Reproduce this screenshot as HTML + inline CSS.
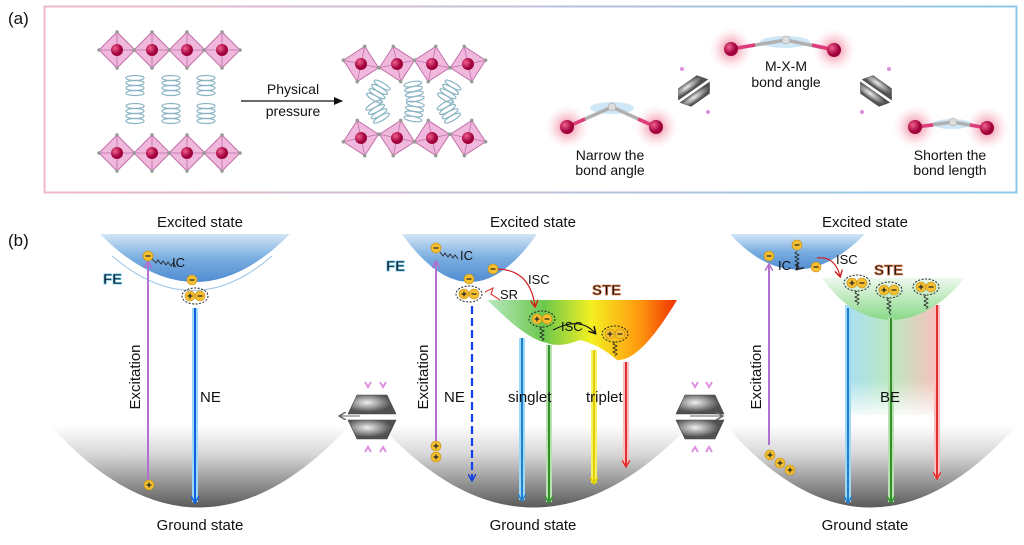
<!DOCTYPE html>
<html><head><meta charset="utf-8"><style>
html,body{margin:0;padding:0;background:#fff}
svg{display:block}
text{font-family:"Liberation Sans",Arial,sans-serif;fill:#111}
</style></head><body>
<svg width="1024" height="545" viewBox="0 0 1024 545" xmlns="http://www.w3.org/2000/svg">
<defs>
<linearGradient id="bord" x1="0" x2="1"><stop offset="0" stop-color="#f0b8c8"/><stop offset="1" stop-color="#8cc8e8"/></linearGradient>
<linearGradient id="exc" x1="0" y1="0" x2="0" y2="1"><stop offset="0" stop-color="#d3e5f6"/><stop offset="0.5" stop-color="#7aaee0"/><stop offset="1" stop-color="#4f8cd2"/></linearGradient>
<linearGradient id="gnd" x1="0" y1="0" x2="0" y2="1"><stop offset="0" stop-color="#fff"/><stop offset="0.35" stop-color="#d8d8d8"/><stop offset="1" stop-color="#5a5a5a"/></linearGradient>
<linearGradient id="ste" x1="0" x2="1"><stop offset="0" stop-color="#b8e8c0"/><stop offset="0.3" stop-color="#6cc84c"/><stop offset="0.55" stop-color="#f4f020"/><stop offset="0.8" stop-color="#ff9a10"/><stop offset="1" stop-color="#f03000"/></linearGradient>
<linearGradient id="ste2" x1="0" y1="0" x2="0" y2="1"><stop offset="0" stop-color="#eef9ee"/><stop offset="1" stop-color="#88d888"/></linearGradient>
<linearGradient id="be" x1="0" x2="1"><stop offset="0" stop-color="#7fd0f0"/><stop offset="0.5" stop-color="#9fe0a8"/><stop offset="1" stop-color="#f0a8a0"/></linearGradient>
<linearGradient id="befade" x1="0" y1="0" x2="0" y2="1"><stop offset="0" stop-color="#fff" stop-opacity="0"/><stop offset="1" stop-color="#fff" stop-opacity="1"/></linearGradient>
<radialGradient id="glow"><stop offset="0.3" stop-color="#f6b0c0"/><stop offset="1" stop-color="#fde8ee" stop-opacity="0"/></radialGradient>
<radialGradient id="ball" cx="0.35" cy="0.35"><stop offset="0" stop-color="#f06090"/><stop offset="1" stop-color="#a0003a"/></radialGradient>
<radialGradient id="dia" cx="0.4" cy="0.4"><stop offset="0" stop-color="#f0f0f0"/><stop offset="1" stop-color="#505050"/></radialGradient>
<g id="oct"><polygon points="0,-18 18,0 0,18 -18,0" fill="#f0b8dc" stroke="#c070a8" stroke-width="1"/><path d="M0,-18V18M-18,0H18" stroke="#c070a8" stroke-width="0.8"/><circle r="6" fill="url(#ball)"/><circle cx="0" cy="-18" r="1.8" fill="#999"/><circle cx="18" cy="0" r="1.8" fill="#999"/><circle cx="0" cy="18" r="1.8" fill="#999"/><circle cx="-18" cy="0" r="1.8" fill="#999"/></g>
<g id="spr" fill="none" stroke="#8ab4c4" stroke-width="1.2"><ellipse cx="0" cy="-8" rx="9" ry="2.5"/><ellipse cx="0" cy="-3" rx="9" ry="2.5"/><ellipse cx="0" cy="2" rx="9" ry="2.5"/><ellipse cx="0" cy="7" rx="9" ry="2.5"/></g>
<g id="neg"><circle r="5" fill="#f5c030" stroke="#c08a10" stroke-width="0.6"/><path d="M-2.5,0H2.5" stroke="#222" stroke-width="1.2"/></g>
<g id="pos"><circle r="5" fill="#f5c030" stroke="#c08a10" stroke-width="0.6"/><path d="M-2.5,0H2.5M0,-2.5V2.5" stroke="#222" stroke-width="1.2"/></g>
<g id="pair"><ellipse rx="13" ry="8" fill="none" stroke="#222" stroke-dasharray="2,1.5"/><use href="#pos" x="-5"/><use href="#neg" x="5"/></g>
<g id="dmd"><path d="M-24,-3 L-15,-22 L15,-22 L24,-3 Z" fill="url(#dia)" stroke="#444" stroke-width="0.6"/><path d="M-24,3 L-15,22 L15,22 L24,3 Z" fill="url(#dia)" stroke="#444" stroke-width="0.6"/></g>
<marker id="ab" markerWidth="8" markerHeight="8" refX="6" refY="4" orient="auto" markerUnits="userSpaceOnUse"><path d="M0,0 L7,4 L0,8" fill="none" stroke="context-stroke" stroke-width="1.5"/></marker>
<marker id="ak" markerWidth="10" markerHeight="10" refX="8" refY="5" orient="auto" markerUnits="userSpaceOnUse"><path d="M0,1 L9,5 L0,9 Z" fill="#111"/></marker>
</defs>

<!-- (a) -->
<text x="8" y="24" font-size="17">(a)</text>
<rect x="44.5" y="6.5" width="972" height="186" fill="none" stroke="url(#bord)" stroke-width="2"/>
<use href="#oct" x="117" y="50"/><use href="#oct" x="152" y="50"/><use href="#oct" x="187" y="50"/><use href="#oct" x="222" y="50"/>
<use href="#oct" x="117" y="153"/><use href="#oct" x="152" y="153"/><use href="#oct" x="187" y="153"/><use href="#oct" x="222" y="153"/>
<use href="#spr" x="135" y="86"/><use href="#spr" x="171" y="86"/><use href="#spr" x="206" y="86"/>
<use href="#spr" x="135" y="114"/><use href="#spr" x="171" y="114"/><use href="#spr" x="206" y="114"/>
<line x1="241" y1="101" x2="342" y2="101" stroke="#111" stroke-width="1.3" marker-end="url(#ak)"/>
<text x="293" y="94" font-size="14" text-anchor="middle">Physical</text>
<text x="293" y="116" font-size="14" text-anchor="middle">pressure</text>
<g transform="translate(361,64) rotate(12)"><use href="#oct"/></g><g transform="translate(397,64) rotate(-12)"><use href="#oct"/></g><g transform="translate(432,64) rotate(12)"><use href="#oct"/></g><g transform="translate(468,64) rotate(-12)"><use href="#oct"/></g>
<g transform="translate(361,138) rotate(-12)"><use href="#oct"/></g><g transform="translate(397,138) rotate(12)"><use href="#oct"/></g><g transform="translate(432,138) rotate(-12)"><use href="#oct"/></g><g transform="translate(468,138) rotate(12)"><use href="#oct"/></g>
<g transform="translate(378,92) rotate(30)"><use href="#spr"/></g><g transform="translate(414,92) rotate(-10)"><use href="#spr"/></g><g transform="translate(449,92) rotate(30)"><use href="#spr"/></g>
<g transform="translate(378,112) rotate(-30)"><use href="#spr"/></g><g transform="translate(414,112) rotate(10)"><use href="#spr"/></g><g transform="translate(449,112) rotate(-30)"><use href="#spr"/></g>

<!-- molecules -->
<g>
<circle cx="567" cy="127" r="22" fill="url(#glow)"/><circle cx="656" cy="127" r="22" fill="url(#glow)"/>
<ellipse cx="612" cy="108" rx="22" ry="6" fill="#cfe6f6"/>
<path d="M567,127 L612,107 L656,127" fill="none" stroke="#b0b0b0" stroke-width="3.5"/>
<path d="M567,127 L585,119 M656,127 L638,119" stroke="#e03c7c" stroke-width="3.5"/>
<circle cx="567" cy="127" r="7" fill="url(#ball)"/><circle cx="656" cy="127" r="7" fill="url(#ball)"/><circle cx="612" cy="107" r="4" fill="#ddd" stroke="#999" stroke-width="0.5"/>
<text x="610" y="160" font-size="14" text-anchor="middle">Narrow the</text><text x="610" y="175" font-size="14" text-anchor="middle">bond angle</text>
</g>
<g>
<circle cx="731" cy="49" r="22" fill="url(#glow)"/><circle cx="834" cy="50" r="22" fill="url(#glow)"/>
<ellipse cx="785" cy="42" rx="25" ry="6" fill="#cfe6f6"/>
<path d="M731,49 L786,40 L834,50" fill="none" stroke="#b0b0b0" stroke-width="3.5"/>
<path d="M731,49 L755,45 M834,50 L812,45" stroke="#e03c7c" stroke-width="3.5"/>
<circle cx="731" cy="49" r="7" fill="url(#ball)"/><circle cx="834" cy="50" r="7" fill="url(#ball)"/><circle cx="786" cy="40" r="4" fill="#ddd" stroke="#999" stroke-width="0.5"/>
<text x="786" y="71" font-size="14" text-anchor="middle">M-X-M</text><text x="786" y="87" font-size="14" text-anchor="middle">bond angle</text>
</g>
<g>
<circle cx="915" cy="127" r="22" fill="url(#glow)"/><circle cx="987" cy="128" r="22" fill="url(#glow)"/>
<ellipse cx="952" cy="124" rx="20" ry="5" fill="#cfe6f6"/>
<path d="M915,127 L953,122 L987,128" fill="none" stroke="#b0b0b0" stroke-width="3.5"/>
<path d="M915,127 L933,125 M987,128 L970,125" stroke="#e03c7c" stroke-width="3.5"/>
<circle cx="915" cy="127" r="7" fill="url(#ball)"/><circle cx="987" cy="128" r="7" fill="url(#ball)"/><circle cx="953" cy="122" r="4" fill="#ddd" stroke="#999" stroke-width="0.5"/>
<text x="950" y="160" font-size="14" text-anchor="middle">Shorten the</text><text x="950" y="175" font-size="14" text-anchor="middle">bond length</text>
</g>
<g transform="translate(694,91) rotate(-35) scale(0.75,0.5)"><use href="#dmd"/></g>
<g transform="translate(876,91) rotate(35) scale(0.75,0.5)"><use href="#dmd"/></g>
<circle cx="682" cy="69" r="2" fill="#e090e0"/><circle cx="708" cy="112" r="2" fill="#e090e0"/><circle cx="889" cy="69" r="2" fill="#e090e0"/><circle cx="862" cy="112" r="2" fill="#e090e0"/>

<!-- (b) -->
<text x="8" y="246" font-size="17">(b)</text>

<path d="M50,425 Q198,590 350,425 Z" fill="url(#gnd)"/>
<path d="M380,425 Q532,590 690,425 Z" fill="url(#gnd)"/>
<path d="M725,425 Q870,590 1017,425 Z" fill="url(#gnd)"/>

<!-- panel 1 -->
<text x="200" y="227" font-size="15" text-anchor="middle">Excited state</text>
<path d="M100,234 Q195,330 290,234 Z" fill="url(#exc)"/>
<path d="M112,253 Q193,322 272,253" fill="none" stroke="#fff" stroke-width="3"/>
<path d="M112,256 Q193,325 272,256" fill="none" stroke="#9cc4e4" stroke-width="1"/>
<text x="103" y="284" font-size="15" font-weight="bold" fill="#cdeefc" stroke="#5cc0ea" stroke-width="0.8">FE</text>
<line x1="148" y1="480" x2="148" y2="262" stroke="#b070d0" stroke-width="2" marker-end="url(#ab)"/>
<text transform="translate(140,377) rotate(-90)" font-size="15" text-anchor="middle">Excitation</text>
<use href="#neg" x="148" y="256"/>
<path d="M152,259 l4,4 l2,-3 l3,4 l2,-3 l3,4 l2,-3 l3,4 l2,-3 l3,4" fill="none" stroke="#222" stroke-width="0.8"/>
<text x="172" y="267" font-size="13">IC</text>
<use href="#neg" x="192" y="280"/>
<use href="#pair" x="195" y="296"/>
<line x1="195" y1="308" x2="195" y2="502" stroke="#9ed8f4" stroke-width="6"/>
<line x1="195" y1="308" x2="195" y2="502" stroke="#1060e0" stroke-width="2" marker-end="url(#ab)"/>
<text x="200" y="402" font-size="15">NE</text>
<use href="#pos" x="149" y="485"/>
<text x="200" y="530" font-size="15" text-anchor="middle">Ground state</text>

<!-- diamonds between -->
<g transform="translate(372,417)"><use href="#dmd"/></g>
<line x1="360" y1="416" x2="340" y2="416" stroke="#666" stroke-width="1" marker-end="url(#ab)"/>
<path d="M365,382 l3,5 l3,-5 M380,382 l3,5 l3,-5" stroke="#e090e0" stroke-width="2" fill="none"/>
<path d="M365,452 l3,-5 l3,5 M380,452 l3,-5 l3,5" stroke="#e090e0" stroke-width="2" fill="none"/>
<g transform="translate(700,417)"><use href="#dmd"/></g>
<line x1="690" y1="416" x2="722" y2="416" stroke="#666" stroke-width="1" marker-end="url(#ab)"/>
<path d="M692,382 l3,5 l3,-5 M706,382 l3,5 l3,-5" stroke="#e090e0" stroke-width="2" fill="none"/>
<path d="M692,452 l3,-5 l3,5 M706,452 l3,-5 l3,5" stroke="#e090e0" stroke-width="2" fill="none"/>

<!-- panel 2 -->
<text x="533" y="227" font-size="15" text-anchor="middle">Excited state</text>
<path d="M487,300 L677,300 Q640,362 617,360 Q600,345 580,340 Q560,348 547,343 Q530,340 503,315 Z" fill="url(#ste)"/>
<path d="M402,234 Q470,330 537,234 Z" fill="url(#exc)"/>
<path d="M410,256 Q470,320 528,270" fill="none" stroke="#fff" stroke-width="3"/>
<text x="386" y="271" font-size="15" font-weight="bold" fill="#cdeefc" stroke="#5cc0ea" stroke-width="0.8">FE</text>
<text x="592" y="295" font-size="15" font-weight="bold" fill="#fbd0b0" stroke="#e88a5a" stroke-width="0.8">STE</text>
<line x1="436" y1="450" x2="436" y2="262" stroke="#b070d0" stroke-width="2" marker-end="url(#ab)"/>
<text transform="translate(428,377) rotate(-90)" font-size="15" text-anchor="middle">Excitation</text>
<use href="#neg" x="436" y="248"/>
<path d="M440,252 l3,4 l2,-3 l3,4 l2,-3 l3,4 l2,-3 l3,4" fill="none" stroke="#222" stroke-width="0.8"/>
<text x="460" y="260" font-size="13">IC</text>
<use href="#neg" x="469" y="279"/>
<use href="#neg" x="493" y="269"/>
<path d="M498,269 Q530,270 535,306" fill="none" stroke="#d02020" stroke-width="1.2" marker-end="url(#ab)"/>
<text x="528" y="284" font-size="13">ISC</text>
<use href="#pair" x="469" y="294"/>
<path d="M485,292 l8,-4 l-2,6 l9,6" fill="none" stroke="#e04040" stroke-width="1.2"/>
<text x="500" y="299" font-size="13">SR</text>
<line x1="472" y1="306" x2="472" y2="480" stroke="#1040e0" stroke-width="2.2" stroke-dasharray="8,4" marker-end="url(#ab)"/>
<text x="444" y="402" font-size="15">NE</text>
<use href="#pair" x="542" y="319"/>
<path d="M542,327 l-2,2 l4,2 l-4,2 l4,2 l-4,2 l4,2 l-2,2" fill="none" stroke="#222" stroke-width="0.8"/>
<path d="M553,330 Q580,316 595,333" fill="none" stroke="#111" stroke-width="1.2" marker-end="url(#ab)"/>
<text x="561" y="331" font-size="13">ISC</text>
<use href="#pair" x="615" y="334"/>
<path d="M615,342 l-2,2 l4,2 l-4,2 l4,2 l-4,2 l4,2 l-2,2" fill="none" stroke="#222" stroke-width="0.8"/>
<line x1="522" y1="338" x2="522" y2="500" stroke="#a0d8f8" stroke-width="6"/><line x1="522" y1="338" x2="522" y2="500" stroke="#2080d0" stroke-width="2" marker-end="url(#ab)"/>
<line x1="549" y1="345" x2="549" y2="502" stroke="#b8e0b0" stroke-width="6"/><line x1="549" y1="345" x2="549" y2="502" stroke="#30902a" stroke-width="2" marker-end="url(#ab)"/>
<line x1="594" y1="350" x2="594" y2="483" stroke="#f8f060" stroke-width="6"/><line x1="594" y1="350" x2="594" y2="483" stroke="#e0d000" stroke-width="2" marker-end="url(#ab)"/>
<line x1="626" y1="362" x2="626" y2="466" stroke="#f8c0c0" stroke-width="6"/><line x1="626" y1="362" x2="626" y2="466" stroke="#e03030" stroke-width="2" marker-end="url(#ab)"/>
<text x="508" y="402" font-size="15">singlet</text>
<text x="586" y="402" font-size="15">triplet</text>
<use href="#pos" x="436" y="446"/><use href="#pos" x="436" y="457"/>
<text x="533" y="530" font-size="15" text-anchor="middle">Ground state</text>

<!-- panel 3 -->
<text x="865" y="227" font-size="15" text-anchor="middle">Excited state</text>
<rect x="845" y="305" width="90" height="110" fill="url(#be)" opacity="0.7"/>
<rect x="845" y="380" width="90" height="40" fill="url(#befade)"/>
<path d="M822,278 L965,278 Q930,320 890,320 Q850,318 822,278 Z" fill="url(#ste2)"/>
<path d="M730,234 Q795,305 865,234 Z" fill="url(#exc)"/>
<text x="874" y="275" font-size="15" font-weight="bold" fill="#fbd0b0" stroke="#e88a5a" stroke-width="0.8">STE</text>
<line x1="769" y1="445" x2="769" y2="265" stroke="#b070d0" stroke-width="2" marker-end="url(#ab)"/>
<text transform="translate(761,377) rotate(-90)" font-size="15" text-anchor="middle">Excitation</text>
<use href="#neg" x="769" y="256"/>
<use href="#neg" x="797" y="245"/>
<path d="M797,251 l-2,2 l4,2 l-4,2 l4,2 l-4,2 l4,2 l-4,2 l4,2 l-2,2" fill="none" stroke="#222" stroke-width="0.8" marker-end="url(#ab)"/>
<text x="778" y="270" font-size="13">IC</text>
<use href="#neg" x="816" y="267"/>
<path d="M817,258 Q835,256 840,276" fill="none" stroke="#d02020" stroke-width="1.2" marker-end="url(#ab)"/>
<text x="836" y="264" font-size="13">ISC</text>
<use href="#pair" x="857" y="283"/><use href="#pair" x="889" y="290"/><use href="#pair" x="926" y="287"/>
<path d="M857,291 l-2,2 l4,2 l-4,2 l4,2 l-4,2 l4,2 l-2,2 M926,295 l-2,2 l4,2 l-4,2 l4,2 l-4,2 l4,2 l-2,2 M889,298 l-2,2 l4,2 l-4,2 l4,2 l-4,2 l4,2 l-2,2 l2,3" fill="none" stroke="#222" stroke-width="0.8"/>
<line x1="848" y1="308" x2="848" y2="502" stroke="#9ed8f4" stroke-width="6"/><line x1="848" y1="308" x2="848" y2="502" stroke="#2080d0" stroke-width="2" marker-end="url(#ab)"/>
<line x1="891" y1="318" x2="891" y2="502" stroke="#b8e0b0" stroke-width="6"/><line x1="891" y1="318" x2="891" y2="502" stroke="#30902a" stroke-width="2" marker-end="url(#ab)"/>
<line x1="937" y1="305" x2="937" y2="478" stroke="#f8c0c0" stroke-width="6"/><line x1="937" y1="305" x2="937" y2="478" stroke="#e03030" stroke-width="2" marker-end="url(#ab)"/>
<text x="880" y="402" font-size="15">BE</text>
<use href="#pos" x="770" y="455"/><use href="#pos" x="780" y="463"/><use href="#pos" x="790" y="470"/>
<text x="865" y="530" font-size="15" text-anchor="middle">Ground state</text>
</svg>
</body></html>
